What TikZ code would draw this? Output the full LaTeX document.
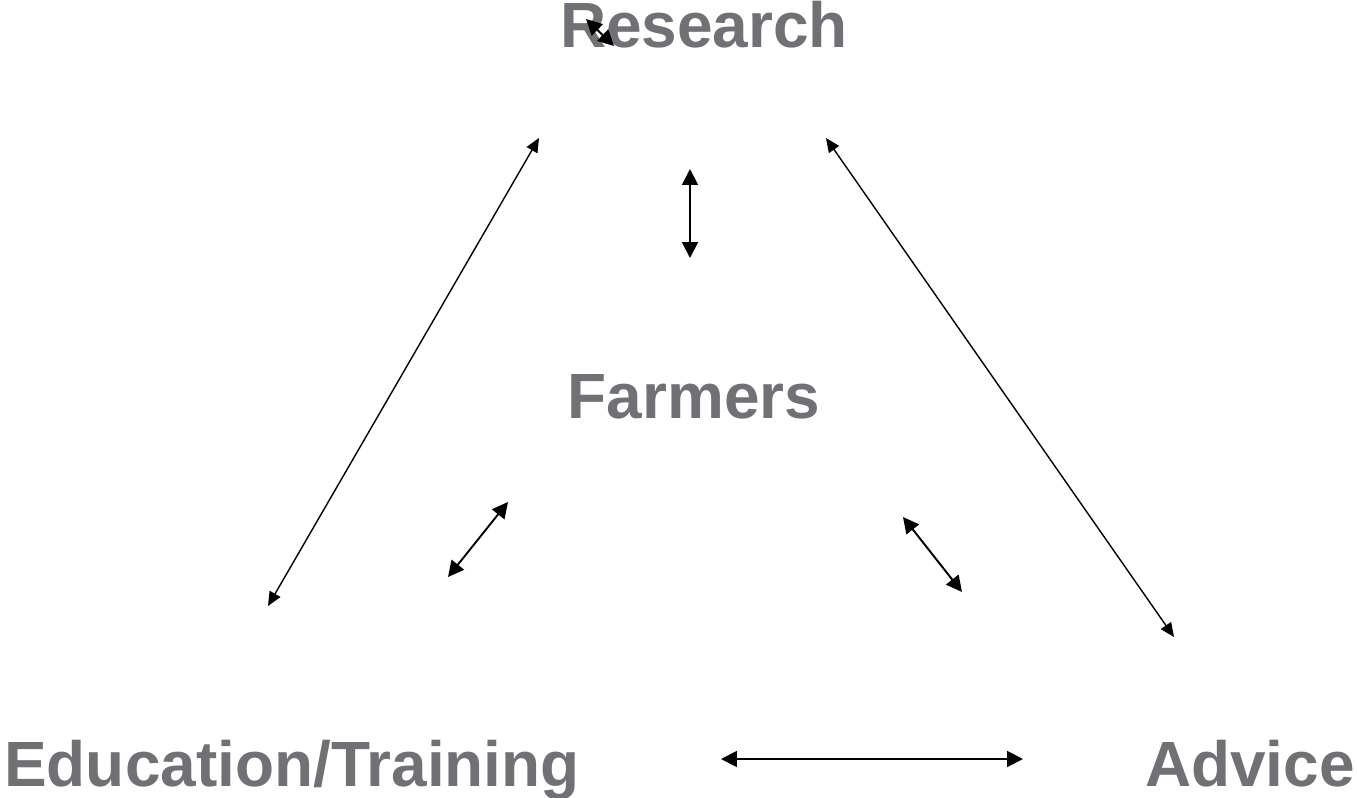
\documentclass[tikz,border=0pt]{standalone}
\usepackage{fontspec}
\setmainfont{Liberation Sans}
\usepackage{xcolor}
\usepackage{tikz}
\usetikzlibrary{arrows.meta}

\definecolor{labelgray}{RGB}{112,112,117}

\begin{document}
\begin{tikzpicture}[x=0.02cm, y=-0.02cm,
    label/.style={font=\fontsize{36.4}{40}\selectfont\bfseries, text=labelgray, anchor=base, inner sep=0pt},
    link/.style={line width=1.1pt, {Triangle[length=9pt,width=9pt]}-{Triangle[length=9pt,width=9pt]}},
    longlink/.style={line width=0.8pt, {Triangle[length=8pt,width=7pt]}-{Triangle[length=8pt,width=7pt]}}
]
\useasboundingbox (0,0) rectangle (1357,798);

% Labels
\node[label] (research) at (704, 47) {Research};
\node[label] (farmers) at (694, 418) {Farmers};
\node[label] (education) at (292, 786) {Education/Training};
\node[label] (advice) at (1250, 786) {Advice};

% Arrow ends
\coordinate (resL) at (539, 138);
\coordinate (eduT) at (268, 606);
\coordinate (resR) at (826, 138);
\coordinate (advT) at (1174, 637);
\coordinate (resB) at (690, 169);
\coordinate (farT) at (690, 258);
\coordinate (farL) at (508, 502);
\coordinate (eduR) at (448, 577);
\coordinate (farR) at (903, 517);
\coordinate (advL) at (962, 592);
\coordinate (eduB) at (721, 759);
\coordinate (advB) at (1023, 759);
\coordinate (tinyA) at (586, 19);
\coordinate (tinyB) at (614, 46);

% Connections
\draw[longlink] (resL) -- (eduT);
\draw[longlink] (resR) -- (advT);
\draw[link] (resB) -- (farT);
\draw[link] (farL) -- (eduR);
\draw[link] (farR) -- (advL);
\draw[link] (eduB) -- (advB);
\draw[link] (tinyA) -- (tinyB);

\end{tikzpicture}
\end{document}
